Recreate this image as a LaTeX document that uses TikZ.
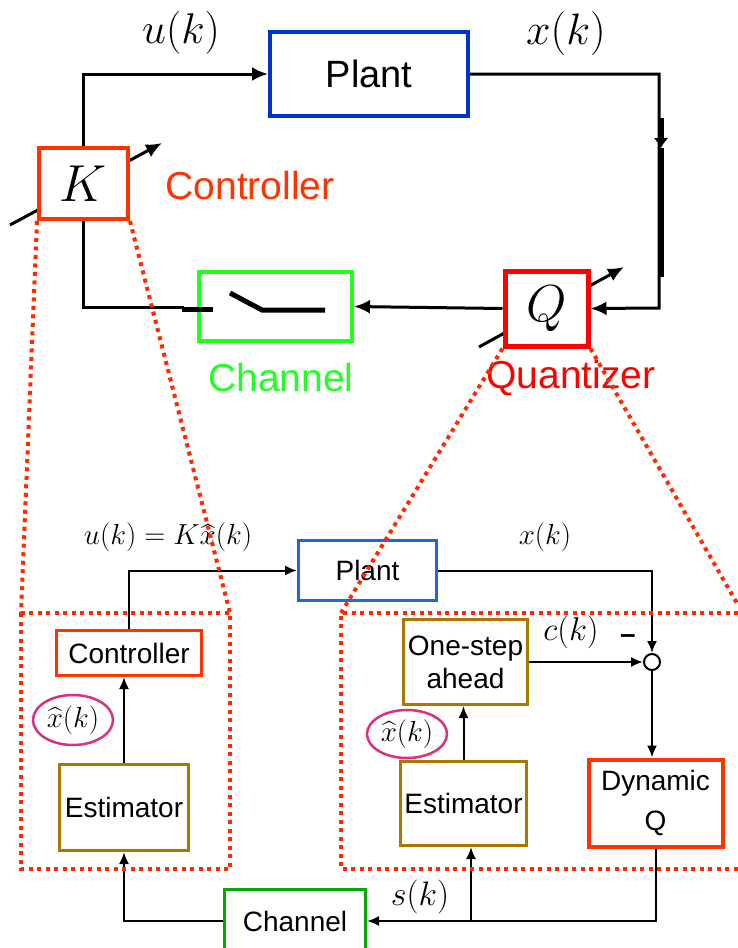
\RequirePackage{fix-cm}
\documentclass[tikz,border=0pt]{standalone}
\usepackage{fontspec}
\usepackage{amsmath}
\usepackage{tikz}
\usetikzlibrary{arrows.meta,positioning,calc,shapes.geometric}
\newfontfamily\arialfont{Liberation Sans}
\definecolor{PlantBlue}{HTML}{0033CC}
\definecolor{PlantBlueLight}{HTML}{2266DD}
\definecolor{CtrlRed}{HTML}{FF3300}
\definecolor{QuantRed}{HTML}{FF0000}
\definecolor{ChanGreen}{HTML}{22FF22}
\definecolor{ChanGreenDark}{HTML}{00AA00}
\definecolor{EstBrown}{HTML}{AA7700}
\definecolor{HatPink}{HTML}{D9307F}
\definecolor{ZoomRed}{HTML}{FF2A00}

\begin{document}
\begin{tikzpicture}[x=1pt, y=-1pt,
    topbox/.style={draw, line width=4pt, fill=white, inner sep=0pt, font=\arialfont\fontsize{38}{44}\selectfont},
    botbox/.style={draw, line width=3pt, fill=white, inner sep=0pt, align=center, font=\arialfont\fontsize{28}{33}\selectfont},
    toplbl/.style={font=\arialfont\fontsize{39}{44}\selectfont},
    sigT/.style={line width=3pt, -{Latex[length=16pt,width=14pt]}},
    sigB/.style={line width=2pt, -{Latex[length=12pt,width=10pt]}},
    hatell/.style={ellipse, draw=HatPink, line width=2.5pt, inner sep=0pt, font=\fontsize{29}{34}\selectfont},
    zoomln/.style={ZoomRed, line width=4pt, dash pattern=on 4pt off 4.5pt}]
    \useasboundingbox (0,0) rectangle (738,948);

    % upper loop
    \draw[sigT] (10,225) -- (162,143);
    \draw[sigT] (479,347) -- (624,267);
    \node[topbox, draw=PlantBlue, minimum width=198pt, minimum height=84pt] (plantT) at (369,74) {Plant};
    \node[topbox, draw=CtrlRed, minimum width=89pt, minimum height=71pt, font=\fontsize{52}{56}\selectfont] (kbox) at (83.5,183.5) {$K$};
    \node[topbox, draw=QuantRed, line width=5pt, minimum width=83pt, minimum height=75pt, font=\fontsize{52}{56}\selectfont] (qbox) at (546.5,308.5) {$Q$};
    \node[topbox, draw=ChanGreen, minimum width=153pt, minimum height=69pt] (chanT) at (275.5,306.5) {};
    \node[font=\fontsize{43}{48}\selectfont] (uT) at (181,33) {$u(k)$};
    \node[font=\fontsize{44}{48}\selectfont] (xT) at (566,33) {$x(k)$};
    \node[toplbl, text=CtrlRed, anchor=west] (ctrlT) at (162,186) {Controller};
    \node[toplbl, text=ChanGreen] (chanL) at (281,378) {Channel};
    \node[toplbl, text=QuantRed] (quantL) at (571,378) {Quantizer};

    \coordinate (rtop) at (659,74);
    \coordinate (rbot) at (659,308);
    \coordinate (thkA) at (661,118);
    \coordinate (thkB) at (661,148);
    \coordinate (thkC) at (661,277);
    \coordinate (swin) at (184,307);
    \draw[sigT] (kbox.north) |- (plantT.west);
    \draw[sigT] (plantT.east) -- (rtop) -- (rbot) -- (qbox.east);
    \draw[line width=5pt, -{Latex[length=10pt,width=15pt]}] (thkA) -- (thkB);
    \draw[line width=5pt] (thkB) -- (thkC);
    \draw[sigT] (qbox.west) -- (chanT.east);
    \draw[line width=3pt] (kbox.south) |- (swin);
    % switch
    \draw[line width=5pt] (182,309) -- (213,309);
    \draw[line width=5pt] (230,293) -- (262,310) -- (325,310);

    % lower detail
    \node[botbox, draw=PlantBlueLight, minimum width=138pt, minimum height=60pt] (plantB) at (367.5,570.5) {Plant};
    \node[botbox, draw=CtrlRed, minimum width=145pt, minimum height=45pt] (ctrlB) at (129,653) {Controller};
    \node[botbox, draw=EstBrown, minimum width=129pt, minimum height=86pt] (estL) at (124,807.5) {Estimator};
    \node[hatell, minimum width=80pt, minimum height=50pt] (ellL) at (73,720) {$\widehat{x}(k)$};
    \node[botbox, draw=EstBrown, minimum width=124pt, minimum height=85pt] (oneB) at (465.5,662) {One-step\\ahead};
    \node[botbox, draw=EstBrown, minimum width=126pt, minimum height=84pt] (estR) at (463.5,803.5) {Estimator};
    \node[hatell, minimum width=80pt, minimum height=48pt] (ellR) at (407,734) {$\widehat{x}(k)$};
    \node[botbox, draw=CtrlRed, line width=4pt, minimum width=134pt, minimum height=87pt, font=\arialfont\fontsize{28}{40}\selectfont] (dynQ) at (655.5,803) {Dynamic\\Q};
    \node[circle, draw, line width=2pt, fill=white, minimum size=16pt, inner sep=0pt] (sumc) at (652,662) {};
    \node[botbox, draw=ChanGreenDark, minimum width=141pt, minimum height=63pt] (chanB) at (295,921) {Channel};
    \node[font=\fontsize{29}{34}\selectfont] (uB) at (168,537) {$u(k)=K\widehat{x}(k)$};
    \node[font=\fontsize{29}{34}\selectfont] (xB) at (545,537) {$x(k)$};
    \node[font=\fontsize{33}{38}\selectfont] (cB) at (571,632) {$c(k)$};
    \node[font=\arialfont\bfseries\fontsize{28}{32}\selectfont] (minus) at (628,639) {\textendash};
    \node[font=\fontsize{34}{38}\selectfont] (sB) at (420,897) {$s(k)$};

    \coordinate (br) at (471,920);
    \draw[sigB] (ctrlB.north) |- (plantB.west);
    \draw[sigB] (plantB.east) -| (sumc.north);
    \draw[sigB] (oneB.east) -- (sumc.west);
    \draw[sigB] (sumc.south) -- (sumc.south |- dynQ.north);
    \draw[sigB] (estL.north) -- (estL.north |- ctrlB.south);
    \draw[sigB] (estR.north) -- (estR.north |- oneB.south);
    \draw[sigB] (dynQ.south) |- (chanB.east);
    \draw[sigB] (br) -- (br |- estR.south);
    \draw[sigB] (chanB.west) -| (estL.south);

    % zoom outlines
    \draw[zoomln] (21,613) rectangle (230,869);
    \draw[zoomln] (738,613) -- (341,613) -- (341,869) -- (738,869);
    \draw[zoomln] (kbox.south west) -- (21,613);
    \draw[zoomln] (kbox.south east) -- (230,613);
    \draw[zoomln] (qbox.south west) -- (341,613);
    \draw[zoomln] (qbox.south east) -- (738,605);
\end{tikzpicture}
\end{document}
